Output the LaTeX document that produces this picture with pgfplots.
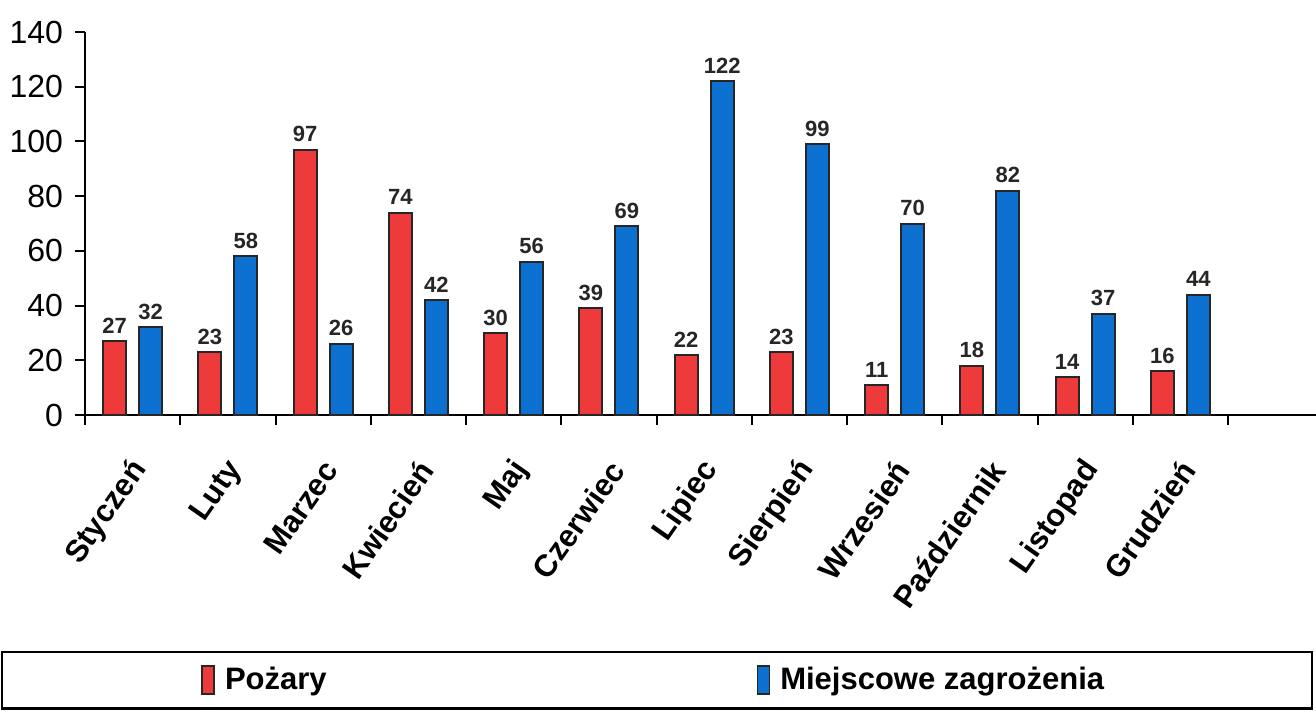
\documentclass[border=0pt]{standalone}
\usepackage{pgfplots}
\pgfplotsset{compat=1.18}
\usepackage{fontspec}
\setmainfont{Liberation Sans}
\definecolor{pozar}{RGB}{238,58,58}
\definecolor{zagr}{RGB}{12,112,208}

\begin{document}
\begin{tikzpicture}
\begin{axis}[
    width=571.5pt, height=191.5pt, scale only axis,
    ybar, bar width=11.5pt, ybar=6.5pt,
    ymin=0, ymax=140, ytick={0,20,...,140},
    xmin=-0.5, xmax=11.5,
    xtick={0,...,11},
    xticklabels={Styczeń,Luty,Marzec,Kwiecień,Maj,Czerwiec,Lipiec,Sierpień,Wrzesień,Październik,Listopad,Grudzień},
    minor xtick={-0.5,0.5,...,11.5},
    major x tick style={draw=none},
    separate axis lines,
    axis x line*=bottom, axis y line*=left,
    x axis line style={-, line width=1pt},
    y axis line style={-, line width=1pt},
    tick align=outside, major tick length=5pt, minor tick length=5pt,
    tick style={line width=1pt, black},
    xtick pos=left, ytick pos=left,
    /pgf/number format/assume math mode=true,
    yticklabel style={font=\fontsize{16}{18}\selectfont, xshift=-2.5pt},
    xticklabel style={font=\bfseries\fontsize{15.5}{17}\selectfont, xshift=6pt, yshift=-17pt, rotate=55, anchor=east},
    nodes near coords,
    every node near coord/.append style={font=\bfseries\fontsize{11}{12}\selectfont, text=black!85},
    clip=false,
    legend columns=2,
    legend style={at={(0.1015,-0.692)}, anchor=west, draw=none, fill=none, inner sep=0pt,
        font=\bfseries\fontsize{15.5}{17}\selectfont,
        /tikz/every odd column/.append style={column sep=3pt},
        /tikz/every even column/.append style={column sep=213pt}},
]
\addplot[fill=pozar, draw=black!85, line width=1pt,
    legend image code/.code={\draw[fill=pozar, draw=black!85, line width=0.8pt] (0pt,-7pt) rectangle (6pt,7pt);}]
    coordinates {(0,27) (1,23) (2,97) (3,74) (4,30) (5,39) (6,22) (7,23) (8,11) (9,18) (10,14) (11,16)};
\addplot[fill=zagr, draw=black!85, line width=1pt,
    legend image code/.code={\draw[fill=zagr, draw=black!85, line width=0.8pt] (0pt,-7pt) rectangle (6pt,7pt);}]
    coordinates {(0,32) (1,58) (2,26) (3,42) (4,56) (5,69) (6,122) (7,99) (8,70) (9,82) (10,37) (11,44)};
\legend{Pożary, Miejscowe zagrożenia}
\draw[line width=1pt] (rel axis cs:1,0) -- (rel axis cs:1.077,0);
\draw[line width=1.2pt] (rel axis cs:-0.0726,-0.619) rectangle (rel axis cs:1.0735,-0.766);
\coordinate (bbll) at (rel axis cs:-0.0744,-0.778);
\coordinate (bbur) at (rel axis cs:1.077,1.0836);
\end{axis}
\pgfresetboundingbox
\useasboundingbox (bbll) rectangle (bbur);
\end{tikzpicture}
\end{document}
